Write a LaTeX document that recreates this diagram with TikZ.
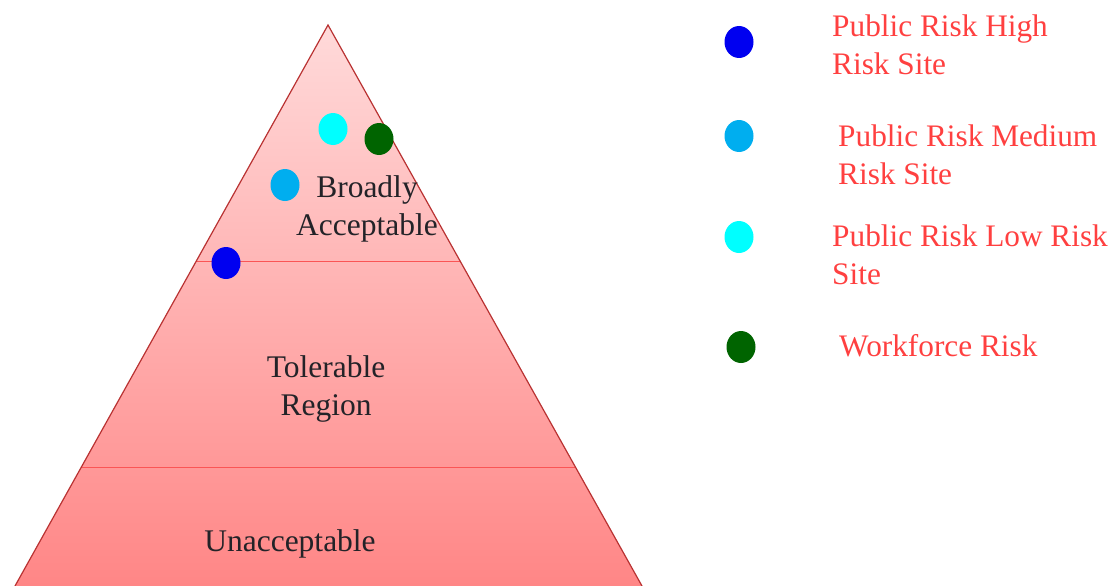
\documentclass[tikz,border=0pt]{standalone}
\usepackage{fontspec}
\setmainfont{Liberation Serif}
\usetikzlibrary{shapes.geometric}
\definecolor{edgered}{RGB}{185,50,50}
\definecolor{linered}{RGB}{250,85,85}
\definecolor{toppink}{RGB}{255,218,218}
\definecolor{botpink}{RGB}{255,134,134}
\definecolor{txtdark}{RGB}{35,35,40}
\definecolor{txtred}{RGB}{255,64,64}
\definecolor{dotblue}{RGB}{0,0,240}
\definecolor{dotmed}{RGB}{0,174,239}
\definecolor{dotcyan}{RGB}{0,255,255}
\definecolor{dotgreen}{RGB}{0,100,0}
\tikzset{
  dot/.style={ellipse, inner sep=0pt, minimum width=29pt, minimum height=32pt, draw=none},
  zonetext/.style={align=center, inner sep=0pt, text=txtdark, font=\fontsize{31.5}{38}\selectfont},
  legtext/.style={align=left, anchor=west, inner sep=0pt, text=txtred, font=\fontsize{31.3}{38}\selectfont},
}
\begin{document}
\begin{tikzpicture}[x=1pt, y=-1pt]
\useasboundingbox (0,0) rectangle (1114,586);
\coordinate (apex) at (328,25);
\coordinate (bl) at (15,586);
\coordinate (br) at (642,586);
\coordinate (l1a) at (196,261);
\coordinate (l1b) at (460,261);
\coordinate (l2a) at (81,467);
\coordinate (l2b) at (575,467);
\shade[top color=toppink, bottom color=botpink] (apex) -- (br) -- (bl) -- cycle;
\draw[linered, line width=1pt] (l1a) -- (l1b);
\draw[linered, line width=1pt] (l2a) -- (l2b);
\draw[edgered, line width=1.2pt] (bl) -- (apex) -- (br);

\node[zonetext] (broad) at (367,209) {Broadly\\Acceptable};
\node[zonetext] (toler) at (326,389) {Tolerable\\Region};
\node[zonetext] (unacc) at (290,544) {Unacceptable};

\node[dot, fill=dotcyan] (pc) at (333,129) {};
\node[dot, fill=dotgreen] (pg) at (379,139) {};
\node[dot, fill=dotmed] (pm) at (285,185) {};
\node[dot, fill=dotblue] (pb) at (226,263) {};

\node[dot, fill=dotblue] (lb) at (739,42) {};
\node[dot, fill=dotmed] (lm) at (739,136) {};
\node[dot, fill=dotcyan] (lc) at (739,237) {};
\node[dot, fill=dotgreen] (lg) at (741,347) {};

\node[legtext] (tb) at (832,45) {Public Risk High\\Risk Site};
\node[legtext] (tm) at (838,155) {Public Risk Medium\\Risk Site};
\node[legtext] (tc) at (832,255) {Public Risk Low Risk\\Site};
\node[legtext] (tg) at (839,346) {Workforce Risk};
\end{tikzpicture}
\end{document}
